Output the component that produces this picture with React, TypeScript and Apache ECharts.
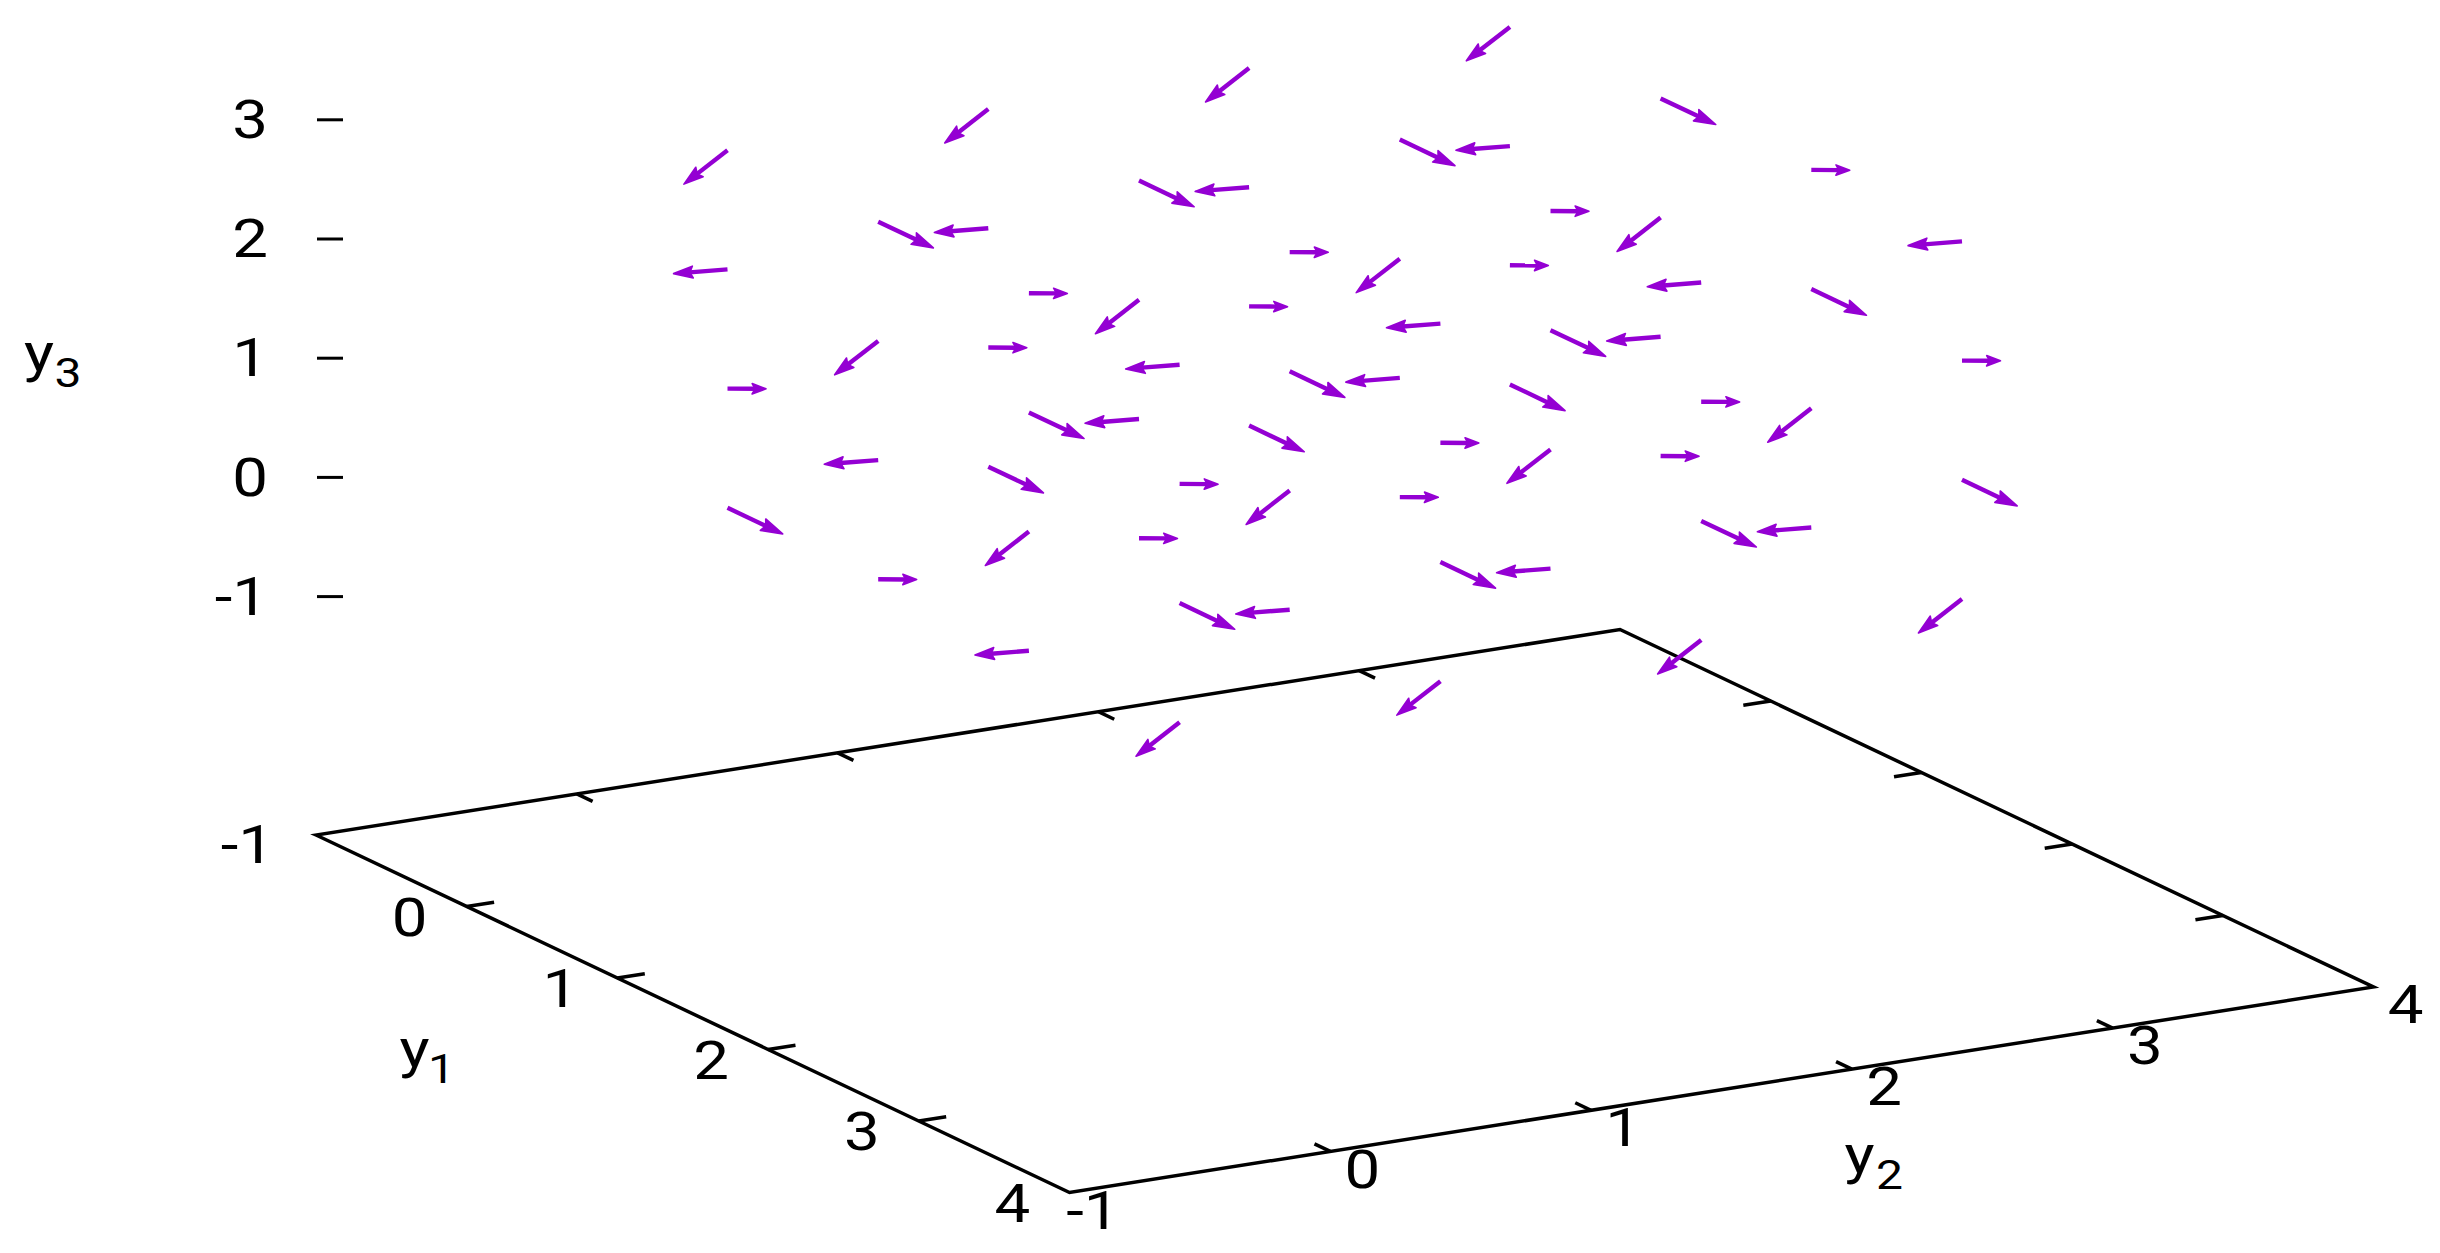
import React, { useEffect, useRef } from "react";
import * as echarts from "echarts";

// Tick values on each axis
const y1Ticks = [0, 1, 2, 3];
const y2Ticks = [0, 1, 2, 3];
const y1Labels = ["0", "1", "2", "3", "4"];
const y2Labels = ["-1", "0", "1", "2", "3", "4"];
const y3Labels = ["-1", "0", "1", "2", "3"];
const baseLabel = "-1";

// Arrow vectors (dy1, dy2, dy3)
const vectors: Record<string, number[]> = {
  A: [0.372, 0, 0],
  B: [0.068, 0.112, 0],
  C: [-0.046, -0.184, 0],
  D: [0.289, -0.337, 0],
};

// Tail position (y1, y2, y3) and vector kind
const arrows: [number, number, number, string][] = [
  [0, 0, 0, "A"], [0, 1, 0, "A"], [0, 2, 0, "A"], [0, 3, 0, "A"],
  [0, 0, 1, "B"], [0, 1, 1, "B"], [0, 2, 1, "B"], [0, 3, 1, "B"],
  [0, 0, 2, "C"], [0, 1, 2, "C"], [0, 2, 2, "C"], [0, 3, 2, "C"],
  [0, 0, 3, "D"], [0, 1, 3, "D"], [0, 2, 3, "D"], [0, 3, 3, "D"],
  [1, 0, 0, "B"], [1, 1, 0, "B"], [1, 2, 0, "B"], [1, 3, 0, "B"],
  [1, 0, 1, "C"], [1, 1, 1, "C"], [1, 2, 1, "C"], [1, 3, 1, "C"],
  [1, 0, 2, "D"], [1, 1, 2, "D"], [1, 2, 2, "D"], [1, 3, 2, "D"],
  [1, 0, 3, "A"], [1, 1, 3, "A"], [1, 2, 3, "A"], [1, 3, 3, "A"],
  [2, 0, 0, "C"], [2, 1, 0, "C"], [2, 2, 0, "C"], [2, 3, 0, "C"],
  [2, 0, 1, "D"], [2, 1, 1, "D"], [2, 2, 1, "D"], [2, 3, 1, "D"],
  [2, 0, 2, "A"], [2, 1, 2, "A"], [2, 2, 2, "A"], [2, 3, 2, "A"],
  [2, 0, 3, "B"], [2, 1, 3, "B"], [2, 2, 3, "B"], [2, 3, 3, "B"],
  [3, 0, 0, "D"], [3, 1, 0, "D"], [3, 2, 0, "D"], [3, 3, 0, "D"],
  [3, 0, 1, "A"], [3, 1, 1, "A"], [3, 2, 1, "A"], [3, 3, 1, "A"],
  [3, 0, 2, "B"], [3, 1, 2, "B"], [3, 2, 2, "B"], [3, 3, 2, "B"],
  [3, 0, 3, "C"], [3, 1, 3, "C"], [3, 2, 3, "C"], [3, 3, 3, "C"],
];

const WIDTH = 2440;
const HEIGHT = 1253;
const VIOLET = "#9400d3";
const FONT = "Roboto";
const FONT_SIZE = 53;
const SUB_SIZE = 40;
const STRETCH = 1.2;
const LINE = 3.5;

// Oblique projection of the gnuplot view onto the flat plot plane
function project(y1: number, y2: number, y3: number): [number, number] {
  return [
    316 + 150.7 * (y1 + 1) + 260.8 * (y2 + 1),
    835 + 71.5 * (y1 + 1) - 41.1 * (y2 + 1) - 119.2 * (y3 + 3),
  ];
}

function textEl(text: string, x: number, y: number, size: number, align: string) {
  return {
    type: "text",
    x,
    y,
    scaleX: STRETCH,
    style: {
      text,
      align,
      verticalAlign: "middle",
      fontFamily: FONT,
      fontSize: size,
      fill: "#000",
    },
  };
}

function lineEl(api: any, a: [number, number], b: [number, number], color: string, width: number) {
  const p = api.coord(a);
  const q = api.coord(b);
  return {
    type: "line",
    shape: { x1: p[0], y1: p[1], x2: q[0], y2: q[1] },
    style: { stroke: color, lineWidth: width, lineCap: "butt" },
  };
}

function renderArrow(_: any, api: any) {
  const [y1, y2, y3] = [api.value(0), api.value(1), api.value(2)];
  const [d1, d2, d3] = [api.value(3), api.value(4), api.value(5)];
  const tail = api.coord(project(y1, y2, y3));
  const tip0 = api.coord(project(y1 + d1, y2 + d2, y3 + d3));
  const dx = tip0[0] - tail[0];
  const dy = tip0[1] - tail[1];
  const len = Math.hypot(dx, dy);
  const ux = dx / len;
  const uy = dy / len;
  const tip = [tip0[0] - ux * 1, tip0[1] - uy * 1];
  const back = len * 0.35;
  const half = 0.05 * len + 3.2;
  const notch = back - 3;
  const barb = (s: number) => [
    tip[0] - ux * back - uy * half * s,
    tip[1] - uy * back + ux * half * s,
  ];
  const nx = tip[0] - ux * notch;
  const ny = tip[1] - uy * notch;
  return {
    type: "group",
    children: [
      {
        type: "line",
        shape: { x1: tail[0], y1: tail[1], x2: nx, y2: ny },
        style: { stroke: VIOLET, lineWidth: 4.4, lineCap: "butt" },
      },
      {
        type: "polygon",
        shape: { points: [tip, barb(1), [nx, ny], barb(-1)] },
        style: { fill: VIOLET, stroke: VIOLET, lineWidth: 1.6, lineJoin: "round" },
      },
    ],
  };
}

function renderFrame(_: any, api: any) {
  const corners = [project(-1, -1, -3), project(4, -1, -3), project(4, 4, -3), project(-1, 4, -3)];
  const children: any[] = [
    {
      type: "polygon",
      shape: { points: corners.map((c) => api.coord(c)) },
      style: { fill: "none", stroke: "#000", lineWidth: LINE, lineJoin: "miter" },
    },
  ];
  const t = 0.105;
  y1Ticks.forEach((v) => {
    children.push(lineEl(api, project(v, -1, -3), project(v, -1 + t, -3), "#000", LINE));
    children.push(lineEl(api, project(v, 4, -3), project(v, 4 - t, -3), "#000", LINE));
  });
  y2Ticks.forEach((v) => {
    children.push(lineEl(api, project(4, v, -3), project(4 - t, v, -3), "#000", LINE));
    children.push(lineEl(api, project(-1, v, -3), project(-1 + t, v, -3), "#000", LINE));
  });
  y3Labels.forEach((s) => {
    const p = project(-1, -1, Number(s));
    children.push(lineEl(api, [p[0] + 1, p[1]], [p[0] + 27, p[1]], "#000", 3));
  });
  return { type: "group", children };
}

function renderLabels(_: any, api: any) {
  const at = (p: [number, number], ox: number, oy: number) => {
    const c = api.coord(p);
    return [c[0] + ox, c[1] + oy];
  };
  const children: any[] = [];
  y1Labels.forEach((s) => {
    const [x, y] = at(project(Number(s), -1, -3), -57, 11);
    children.push(textEl(s, x, y, FONT_SIZE, "center"));
  });
  y2Labels.forEach((s) => {
    const [x, y] = at(project(4, Number(s), -3), 50, 18);
    children.push(textEl(s, x, y, FONT_SIZE, "right"));
  });
  y3Labels.forEach((s) => {
    const [x, y] = at(project(-1, -1, Number(s)), -48, 0);
    children.push(textEl(s, x, y, FONT_SIZE, "right"));
  });
  const [bx, by] = at(project(-1, -1, -3), -42, 10);
  children.push(textEl(baseLabel, bx, by, FONT_SIZE, "right"));

  const axisName = (sub: string, x: number, y: number, sx: number) => {
    children.push(textEl("y", x, y, FONT_SIZE, "center"));
    children.push(textEl(sub, x + sx, y + 20, SUB_SIZE, "center"));
  };
  axisName("1", 414.5, 1049, 27);
  axisName("2", 1859.5, 1155, 30);
  axisName("3", 39, 353, 29);
  return { type: "group", children };
}

export default function App() {
  const ref = useRef<HTMLDivElement>(null);
  useEffect(() => {
    document.body.style.margin = "0";
    document.body.style.background = "#fff";
    const chart = echarts.init(ref.current!, undefined, { renderer: "svg" });
    chart.setOption({
      animation: false,
      backgroundColor: "#fff",
      grid: { left: 0, right: 0, top: 0, bottom: 0 },
      xAxis: { type: "value", min: 0, max: WIDTH, show: false },
      yAxis: { type: "value", min: 0, max: HEIGHT, inverse: true, show: false },
      series: [
        { type: "custom", silent: true, clip: false, renderItem: renderFrame, data: [[0, 0]], z: 1 },
        { type: "custom", silent: true, clip: false, renderItem: renderLabels, data: [[0, 0]], z: 2 },
        {
          type: "custom",
          silent: true,
          clip: false,
          renderItem: renderArrow,
          data: arrows.map((a) => [a[0], a[1], a[2], ...vectors[a[3]]]),
          z: 3,
        },
      ],
    });
    return () => chart.dispose();
  }, []);
  return (
    <div
      ref={ref}
      style={{ position: "fixed", left: 0, top: 0, width: WIDTH, height: HEIGHT }}
    />
  );
}
